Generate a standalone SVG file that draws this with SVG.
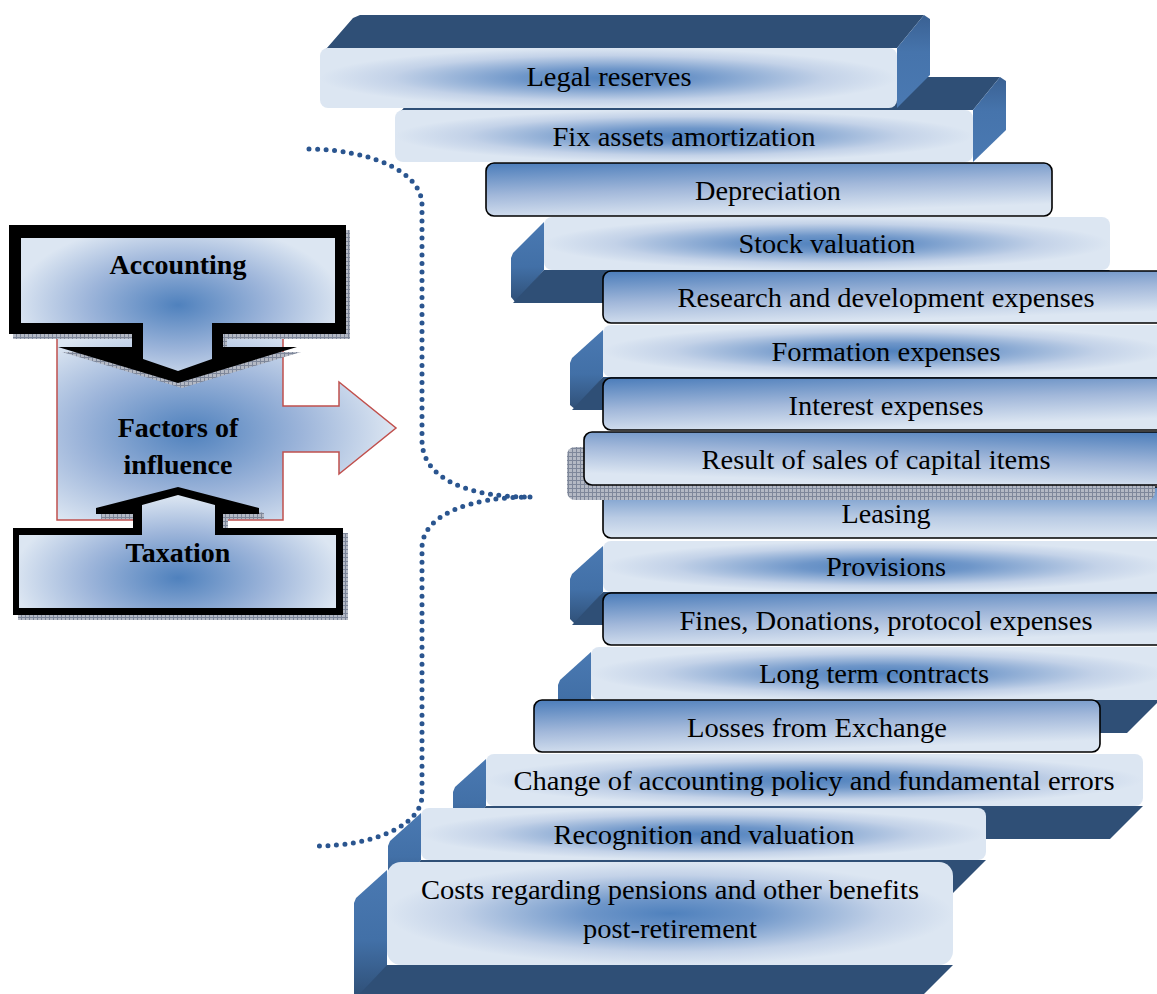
<svg xmlns="http://www.w3.org/2000/svg" width="1157" height="994" viewBox="0 0 1157 994">
<style>
.lbl{font-family:"Liberation Serif","Times New Roman",serif;font-size:28px;fill:#000;text-anchor:middle}
.hd{font-family:"Liberation Serif","Times New Roman",serif;font-size:28px;font-weight:bold;fill:#000;text-anchor:middle}
.light{fill:url(#gLight)}
.dark{fill:url(#gDark);stroke:#000;stroke-width:1.6}
.face{fill:#2F4F76}
.rside{fill:url(#gRight)}
.lside{fill:url(#gLeft)}
.brace{fill:none;stroke:#2A558F;stroke-width:5;stroke-linecap:round;stroke-dasharray:0 8.5}
.shadow{fill:url(#hatch)}
</style>
<defs>
<radialGradient id="gLight" cx="0.5" cy="0.5" r="0.5">
<stop offset="0" stop-color="#4F81BD"/>
<stop offset="0.3" stop-color="#6E96C9"/>
<stop offset="0.75" stop-color="#C3D2E8"/>
<stop offset="1" stop-color="#DCE6F2"/>
</radialGradient>
<linearGradient id="gDark" x1="0" y1="0" x2="0.35" y2="1">
<stop offset="0" stop-color="#4A7CBA"/>
<stop offset="0.55" stop-color="#A2B8DA"/>
<stop offset="1" stop-color="#DCE6F2"/>
</linearGradient>
<linearGradient id="gDarkR" x1="1" y1="0" x2="0.65" y2="1">
<stop offset="0" stop-color="#4A7CBA"/>
<stop offset="0.55" stop-color="#A2B8DA"/>
<stop offset="1" stop-color="#DCE6F2"/>
</linearGradient>
<linearGradient id="gDarkV" x1="0" y1="0" x2="0" y2="1">
<stop offset="0" stop-color="#6690C6"/>
<stop offset="0.6" stop-color="#B9CBE4"/>
<stop offset="1" stop-color="#DCE6F2"/>
</linearGradient>
<linearGradient id="gRight" x1="0" y1="0" x2="0" y2="1">
<stop offset="0" stop-color="#3A6193"/>
<stop offset="0.4" stop-color="#4674AC"/>
<stop offset="1" stop-color="#4A79B2"/>
</linearGradient>
<linearGradient id="gLeft" x1="0" y1="0" x2="0" y2="1">
<stop offset="0" stop-color="#4A79B2"/>
<stop offset="0.55" stop-color="#4270A7"/>
<stop offset="1" stop-color="#2F4F76"/>
</linearGradient>
<radialGradient id="gAcc" gradientUnits="userSpaceOnUse" cx="178" cy="305" r="165" gradientTransform="translate(178 305) scale(1 0.5) translate(-178 -305)">
<stop offset="0" stop-color="#4F81BD"/>
<stop offset="0.55" stop-color="#9DB5DA"/>
<stop offset="1" stop-color="#DCE6F2"/>
</radialGradient>
<radialGradient id="gTax" gradientUnits="userSpaceOnUse" cx="178" cy="578" r="165" gradientTransform="translate(178 578) scale(1 0.5) translate(-178 -578)">
<stop offset="0" stop-color="#4F81BD"/>
<stop offset="0.55" stop-color="#9DB5DA"/>
<stop offset="1" stop-color="#DCE6F2"/>
</radialGradient>
<radialGradient id="gFac" gradientUnits="userSpaceOnUse" cx="190" cy="432" r="205" gradientTransform="translate(190 432) scale(1 0.55) translate(-190 -432)">
<stop offset="0" stop-color="#4F81BD"/>
<stop offset="0.55" stop-color="#9DB5DA"/>
<stop offset="1" stop-color="#DCE6F2"/>
</radialGradient>
<pattern id="hatch" width="4" height="4" patternUnits="userSpaceOnUse">
<rect width="4" height="4" fill="#B4B9C4"/>
<path d="M0 0.5H4M0.5 0V4" stroke="#7E879A" stroke-width="1"/>
</pattern>
</defs>
<rect width="1157" height="994" fill="#FFFFFF"/>

<g id="factors">
<polygon points="57,337 283,337 283,406 339,406 339,382 396,428 339,474 339,452 283,452 283,520 57,520" fill="url(#gFac)" stroke="#C0504D" stroke-width="1.5"/>
<text class="hd" x="178" y="437">Factors of</text>
<text class="hd" x="178" y="474">influence</text>
</g>

<g id="accounting">
<polygon class="shadow" transform="translate(4 5)" points="9,225 346,225 346,334 223,334 223,347 297,347 178,383 58,347 132,347 132,334 9,334"/>
<polygon points="9,225 346,225 346,334 223,334 223,347 297,347 178,383 58,347 132,347 132,334 9,334" fill="#000"/>
<polygon points="21,238 335,238 335,323 212,323 212,359 178,371 143,359 143,323 21,323" fill="url(#gAcc)"/>
<text class="hd" x="178" y="274">Accounting</text>
</g>

<g id="taxation">
<polygon class="shadow" transform="translate(5 5)" points="13,528 133,528 133,514 96,514 96,508 178,487 259,508 259,514 223,514 223,528 343,528 343,615 13,615"/>
<polygon points="13,528 133,528 133,514 96,514 96,508 178,487 259,508 259,514 223,514 223,528 343,528 343,615 13,615" fill="#000"/>
<polygon points="19,535 142,535 142,505 178,495 215,505 215,535 336,535 336,608 19,608" fill="url(#gTax)"/>
<text class="hd" x="178" y="562">Taxation</text>
</g>

<g id="connectors">
<path class="brace" d="M309,149 C372,150 422,172 422,205 L422,440 C422,480 470,497 530,497"/>
<path class="brace" d="M530,497 C470,497 422,515 422,548 L422,795 C422,826 372,846 316,846"/>
</g>

<g id="fix-assets">
<polygon class="face" points="395,118 428,80 435,77 1000,77 973,110 403,110"/>
<polygon class="rside" points="973,110 1000,77 1006,81 1006,130 973,162"/>
<rect class="light" x="395" y="110" width="578" height="52" rx="8"/>
<text class="lbl" x="684" y="146" textLength="263" lengthAdjust="spacingAndGlyphs">Fix assets amortization</text>
</g>

<g id="legal-reserves">
<polygon class="face" points="320,56 353,18 360,15 924,15 897,48 328,48"/>
<polygon class="rside" points="897,48 924,15 930,19 930,75 897,108"/>
<rect class="light" x="320" y="48" width="577" height="60" rx="8"/>
<text class="lbl" x="609" y="86" textLength="165" lengthAdjust="spacingAndGlyphs">Legal reserves</text>
</g>

<g id="depreciation">
<rect class="dark" x="486" y="163" width="566" height="53" rx="8"/>
<text class="lbl" x="768" y="200" textLength="146" lengthAdjust="spacingAndGlyphs">Depreciation</text>
</g>

<g id="stock-valuation">
<polygon class="lside" points="544,222 513,253 511,258 511,297 516,303 544,270"/>
<polygon class="face" points="544,270 513,303 1077,303 1110,270"/>
<rect class="light" x="544" y="217" width="566" height="53" rx="8"/>
<text class="lbl" x="827" y="253" textLength="177" lengthAdjust="spacingAndGlyphs">Stock valuation</text>
</g>

<g id="research">
<rect class="dark" x="603" y="271" width="565" height="52" rx="8"/>
<text class="lbl" x="886" y="307" textLength="417" lengthAdjust="spacingAndGlyphs">Research and development expenses</text>
</g>

<g id="formation">
<polygon class="lside" points="603,330 572,358 570,363 570,405 576,410 603,377"/>
<polygon class="face" points="603,377 572,410 1130,410 1165,377"/>
<rect class="light" x="603" y="325" width="565" height="52" rx="8"/>
<text class="lbl" x="886" y="361" textLength="229" lengthAdjust="spacingAndGlyphs">Formation expenses</text>
</g>

<g id="interest">
<rect class="dark" x="603" y="378" width="565" height="52" rx="8"/>
<text class="lbl" x="886" y="415" textLength="195" lengthAdjust="spacingAndGlyphs">Interest expenses</text>
</g>

<g id="leasing">
<rect x="603" y="487" width="565" height="51" rx="8" fill="url(#gDarkV)" stroke="#000" stroke-width="1.6"/>
<text class="lbl" x="886" y="523" textLength="89" lengthAdjust="spacingAndGlyphs">Leasing</text>
</g>

<g id="result-sales">
<rect class="shadow" x="567" y="447" width="588" height="53" rx="8"/>
<rect x="584" y="432" width="584" height="53" rx="8" fill="url(#gDarkR)" stroke="#000" stroke-width="1.6"/>
<text class="lbl" x="876" y="469" textLength="349" lengthAdjust="spacingAndGlyphs">Result of sales of capital items</text>
</g>

<g id="provisions">
<polygon class="lside" points="603,546 572,574 570,579 570,619 576,625 603,592"/>
<polygon class="face" points="603,592 572,625 1130,625 1165,592"/>
<rect class="light" x="603" y="541" width="565" height="51" rx="8"/>
<text class="lbl" x="886" y="576" textLength="120" lengthAdjust="spacingAndGlyphs">Provisions</text>
</g>

<g id="fines">
<rect class="dark" x="603" y="593" width="565" height="52" rx="8"/>
<text class="lbl" x="886" y="630" textLength="413" lengthAdjust="spacingAndGlyphs">Fines, Donations, protocol expenses</text>
</g>

<g id="long-term">
<polygon class="lside" points="591,652 560,680 558,685 558,727 564,733 591,700"/>
<polygon class="face" points="591,700 560,733 1127,733 1160,700"/>
<rect class="light" x="591" y="647" width="575" height="53" rx="8"/>
<text class="lbl" x="874" y="683" textLength="230" lengthAdjust="spacingAndGlyphs">Long term contracts</text>
</g>

<g id="losses">
<rect class="dark" x="534" y="700" width="566" height="52" rx="8"/>
<text class="lbl" x="817" y="737" textLength="260" lengthAdjust="spacingAndGlyphs">Losses from Exchange</text>
</g>

<g id="change-policy">
<polygon class="lside" points="486,759 455,787 453,792 453,833 459,839 486,806"/>
<polygon class="face" points="486,806 455,839 1110,839 1143,806"/>
<rect class="light" x="486" y="754" width="657" height="52" rx="8"/>
<text class="lbl" x="814" y="790" textLength="601" lengthAdjust="spacingAndGlyphs">Change of accounting policy and fundamental errors</text>
</g>

<g id="recognition">
<polygon class="lside" points="421,813 390,841 388,846 388,887 394,893 421,860"/>
<polygon class="face" points="421,860 390,893 953,893 986,860"/>
<rect class="light" x="421" y="808" width="565" height="52" rx="8"/>
<text class="lbl" x="704" y="844" textLength="301" lengthAdjust="spacingAndGlyphs">Recognition and valuation</text>
</g>

<g id="costs-pensions">
<polygon class="lside" points="387,870 356,898 354,903 354,998 387,998 387,965"/>
<polygon class="face" points="387,965 356,998 920,998 953,965"/>
<rect class="light" x="387" y="862" width="566" height="103" rx="14"/>
<text class="lbl" x="670" y="899" textLength="498" lengthAdjust="spacingAndGlyphs">Costs regarding pensions and other benefits</text>
<text class="lbl" x="670" y="938" textLength="174" lengthAdjust="spacingAndGlyphs">post-retirement</text>
</g>
</svg>
